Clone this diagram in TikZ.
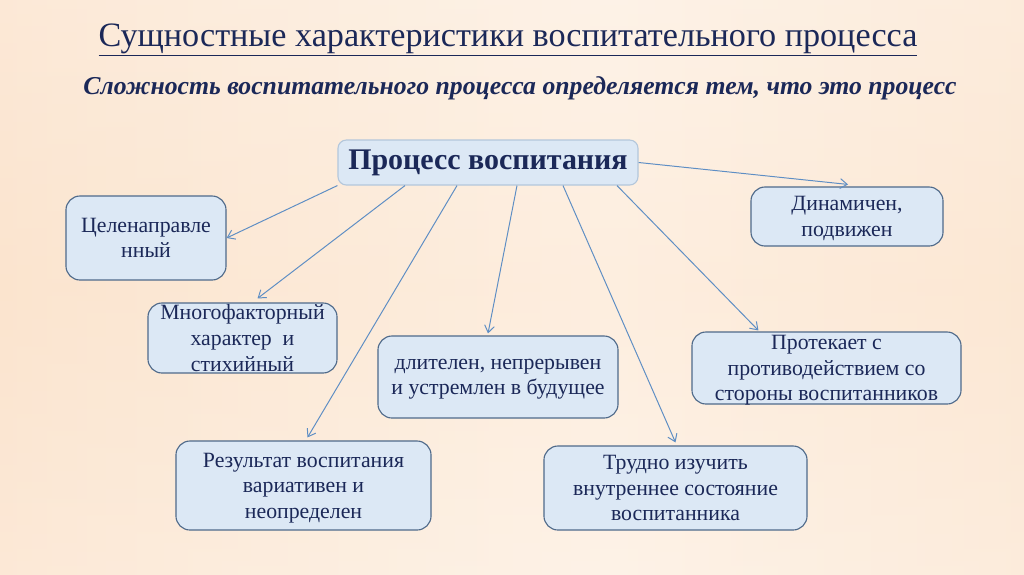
\documentclass[tikz,border=0pt]{standalone}
\usepackage{fontspec}
\setmainfont{Liberation Serif}
\usetikzlibrary{arrows.meta,positioning,calc}
\definecolor{navy}{HTML}{1B2858}
\definecolor{boxfill}{HTML}{DCE8F5}
\definecolor{boxline}{HTML}{4F6A8A}
\definecolor{hubline}{HTML}{B4C7DB}
\definecolor{arrowblue}{HTML}{5E8EC4}
\definecolor{peachL}{HTML}{F7D0AF}
\definecolor{peachA}{HTML}{FBE3CC}
\definecolor{peachM}{HTML}{FDEEDF}
\definecolor{peachR}{HTML}{F9D8BC}
\pgfdeclarehorizontalshading{peachbg}{100bp}{color(0bp)=(peachL); color(28bp)=(peachA);
  color(55bp)=(peachM); color(80bp)=(peachA); color(100bp)=(peachR)}

\begin{document}
\begin{tikzpicture}[x=0.025cm, y=-0.025cm,
    feature/.style={
      draw=boxline, fill=boxfill, rounded corners=10pt, line width=0.8pt,
      align=center, text=navy, inner xsep=2pt, inner ysep=0pt, text depth=0pt,
      font=\fontsize{15.5}{18.2}\selectfont
    },
    hub/.style={
      draw=hubline, fill=boxfill, rounded corners=6pt, line width=0.8pt,
      text=navy, font=\fontsize{21.3}{24}\selectfont\bfseries,
      minimum width=7.5cm, minimum height=1.125cm
    },
    link/.style={->, arrowblue, line width=0.7pt},
    >={Straight Barb[length=5pt,width=7pt]}
  ]
  % Background
  \shade[shading=peachbg] (0,0) rectangle (1024,574);
  \shade[top color=white, bottom color=white, middle color=peachM, opacity=0.25]
    (0,0) rectangle (1024,574);
  \useasboundingbox (0,0) rectangle (1024,574);

  % Headings
  \node[text=navy, font=\fontsize{24.3}{28}\selectfont] (title) at (508,40)
    {\underline{Сущностные характеристики воспитательного процесса}};
  \node[text=navy, font=\fontsize{18.3}{22}\selectfont\bfseries\itshape] (sub) at (520,88)
    {Сложность воспитательного процесса определяется тем, что это процесс};

  % Central node
  \node[hub] (proc) at (488,162.5) {Процесс воспитания};

  % Feature boxes
  \node[feature, minimum width=4cm,     minimum height=2.1cm]   (b1) at (146,238)   {Целенаправле\\нный};
  \node[feature, minimum width=4.725cm, minimum height=1.75cm]  (b2) at (242.5,338) {Многофакторный\\характер \ и\\стихийный};
  \node[feature, minimum width=6cm,     minimum height=2.05cm]  (b3) at (498,377)   {длителен, непрерывен\\и устремлен в будущее};
  \node[feature, minimum width=6.375cm, minimum height=2.225cm] (b4) at (303.5,485.5) {Результат воспитания\\вариативен и\\неопределен};
  \node[feature, minimum width=6.575cm, minimum height=2.1cm]   (b5) at (675.5,488) {Трудно изучить\\внутреннее состояние\\воспитанника};
  \node[feature, minimum width=6.725cm, minimum height=1.8cm]   (b6) at (826.5,368) {Протекает с\\противодействием со\\стороны воспитанников};
  \node[feature, minimum width=4.8cm,   minimum height=1.475cm] (b7) at (847,216.5) {Динамичен,\\подвижен};

  % Arrow ends
  \coordinate (s1) at (proc.south west);
  \coordinate (e1) at (b1.east);
  \coordinate (s2) at ($(proc.south)+(-83,0)$);
  \coordinate (e2) at ($(b2.north)+(15,-4)$);
  \coordinate (s3) at ($(proc.south)+(-31,0)$);
  \coordinate (e3) at ($(b4.north)+(4,-3)$);
  \coordinate (s4) at ($(proc.south)+(29,0)$);
  \coordinate (e4) at ($(b3.north)+(-10,-2)$);
  \coordinate (s5) at ($(proc.south)+(75,0)$);
  \coordinate (e5) at ($(b5.north)+(0,-3)$);
  \coordinate (s6) at ($(proc.south)+(129,0)$);
  \coordinate (e6) at ($(b6.north west)+(67,-1)$);
  \coordinate (s7) at (proc.east);
  \coordinate (e7) at ($(b7.north)+(1,-2)$);

  % Arrows
  \foreach \i in {1,...,7} {
    \draw[link] (s\i) -- (e\i);
  }
\end{tikzpicture}
\end{document}
